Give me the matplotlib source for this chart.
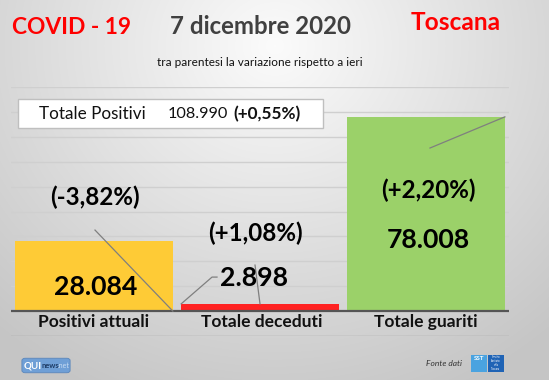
import matplotlib
matplotlib.use("Agg")
import matplotlib.pyplot as plt
import numpy as np
from matplotlib.patches import Rectangle, FancyBboxPatch

# ---- data ----
categories = ["Positivi attuali", "Totale deceduti", "Totale guariti"]
values = [28084, 2898, 78008]
value_labels = ["28.084", "2.898", "78.008"]
variations = ["(-3,82%)", "(+1,08%)", "(+2,20%)"]
bar_colors = ["#FECB36", "#FF2222", "#9BD169"]
total_label = "Totale Positivi"
total_value = "108.990"
total_var = "(+0,55%)"
title_left = "COVID - 19"
title_mid = "7 dicembre 2020"
title_right = "Toscana"
subtitle = "tra parentesi la variazione rispetto a ieri"

FONT = "Lato"
plt.rcParams['font.family'] = [FONT, 'DejaVu Sans']

W, H = 549, 380
fig = plt.figure(figsize=(W / 100, H / 100), dpi=100)

# background gradient
bg = fig.add_axes([0, 0, 1, 1], zorder=-10)
yy, xx = np.mgrid[0:H, 0:W]
d = np.sqrt(((xx - W * 0.5) / (W * 0.75)) ** 2 + ((yy - H * 0.12) / (H * 1.0)) ** 2)
d = np.clip(d, 0, 1)
lum = 0.985 - 0.21 * d
img = np.dstack([lum, lum, lum])
bg.imshow(img, aspect='auto', extent=[0, 1, 0, 1], origin='upper')
bg.set_axis_off()

# main axes
ax = fig.add_axes([11 / W, (H - 336) / H, 498 / W, (336 - 87) / H])
ax.patch.set_alpha(0)
x = np.arange(len(categories))
bw = 0.95
bars = ax.bar(x, values, width=bw, color=bar_colors, zorder=3)
ax.set_xlim(-0.5, 2.5)
ax.set_ylim(-10000, 90000)
for yv in range(-10000, 90001, 10000):
    if yv == 0:
        continue
    ax.axhline(yv, color="#cfcfcf" if yv > 0 else "#a5a5a5", lw=1.0, zorder=1)
ax.axhline(0, color="#555555", lw=1.6, zorder=4)
for s in ax.spines.values():
    s.set_visible(False)
ax.set_xticks([])
ax.set_yticks([])

# category labels
for i, c in enumerate(categories):
    ax.text(i + (0.01 if i == 1 else 0), -4400, c, ha="center", va="center",
            fontsize=12.5, fontweight="bold", color="#111111", zorder=5)

# value labels and variations
val_pos = [(0.012, 9643), (0.964, 13260), (2.012, 28528)]
var_pos = [(0.006, 45805), (0.97, 31340), (2.012, 48618)]
for i in range(3):
    ax.text(*val_pos[i], value_labels[i], ha="center", va="center",
            fontsize=19.2, fontweight="bold", color="black", zorder=6)
    ax.text(*var_pos[i], variations[i], ha="center", va="center",
            fontsize=17.4, fontweight="bold", color="black", zorder=6)

# leader lines
lc = "#7f7f7f"
ax.plot([var_pos[0][0], x[0] + bw / 2], [32546, 0], color=lc, lw=0.9, zorder=5)
ax.plot([x[1] - bw / 2, 0.711, 0.741], [values[1], 13661, 13661], color=lc, lw=0.9, zorder=5)
ax.plot([0.97, x[1]], [18483, values[1]], color=lc, lw=0.9, zorder=5)
ax.plot([2.024, x[2] + bw / 2], [65493, values[2]], color=lc, lw=0.9, zorder=5)

# titles
fig.text(71.5 / W, 1 - 27 / H, title_left, ha="center", va="center", fontsize=16.4,
         fontweight="bold", color="#FF0000")
fig.text(261 / W, 1 - 26 / H, title_mid, ha="center", va="center", fontsize=17.3,
         fontweight="bold", color="#404040")
fig.text(456 / W, 1 - 23 / H, title_right, ha="center", va="center", fontsize=17.6,
         fontweight="bold", color="#FF0000")
fig.text(260 / W, 1 - 63 / H, subtitle, ha="center", va="center", fontsize=8.5,
         color="#111111")

# totals box
fig.patches.append(Rectangle((18 / W, 1 - 128 / H), 305 / W, 29 / H,
                             transform=fig.transFigure, facecolor="white",
                             edgecolor="#bfbfbf", lw=1.0, zorder=2))
fig.text(39 / W, 1 - 114 / H, total_label, ha="left", va="center", fontsize=12.3,
         color="#111111", zorder=3)
fig.text(168 / W, 1 - 114 / H, total_value, ha="left", va="center", fontsize=11.7,
         color="#111111", zorder=3)
fig.text(233 / W, 1 - 114 / H, total_var, ha="left", va="center", fontsize=12.4,
         fontweight="bold", color="#111111", zorder=3)

# footer: QUInews logo
fig.patches.append(FancyBboxPatch((23 / W, 1 - 372 / H), 46 / W, 13 / H,
                                  boxstyle="round,pad=0.002,rounding_size=0.006",
                                  transform=fig.transFigure, facecolor="#6f9fd6",
                                  edgecolor="#5a86bb", lw=0.6, zorder=2))
fig.text(24 / W, 1 - 365.5 / H, "QUI", ha="left", va="center", fontsize=7,
         fontweight="bold", color="white", zorder=3)
fig.text(41 / W, 1 - 366 / H, "news", ha="left", va="center", fontsize=5.5,
         fontweight="bold", color="#1e3c66", zorder=3)
fig.text(58 / W, 1 - 366 / H, ".net", ha="left", va="center", fontsize=5,
         color="#c8dcf3", zorder=3)

# footer: Fonte dati + SST logo
fig.text(426 / W, 1 - 364 / H, "Fonte dati", ha="left", va="center", fontsize=6,
         style="italic", color="#333333")
fig.patches.append(Rectangle((471 / W, 1 - 372 / H), 16 / W, 17 / H,
                             transform=fig.transFigure, facecolor="#4aa3e0",
                             edgecolor="none", zorder=2))
fig.patches.append(Rectangle((488 / W, 1 - 372 / H), 16 / W, 17 / H,
                             transform=fig.transFigure, facecolor="#1f63b5",
                             edgecolor="none", zorder=2))
fig.text(479 / W, 1 - 359 / H, "SST", ha="center", va="center", fontsize=4.5,
         fontweight="bold", color="white", zorder=3)
fig.text(496 / W, 1 - 363.5 / H, "Servizio\nSanitario\ndella\nToscana", ha="center",
         va="center", fontsize=1.8, color="white", zorder=3, linespacing=1.0)

fig.savefig("out.png", dpi=100)
